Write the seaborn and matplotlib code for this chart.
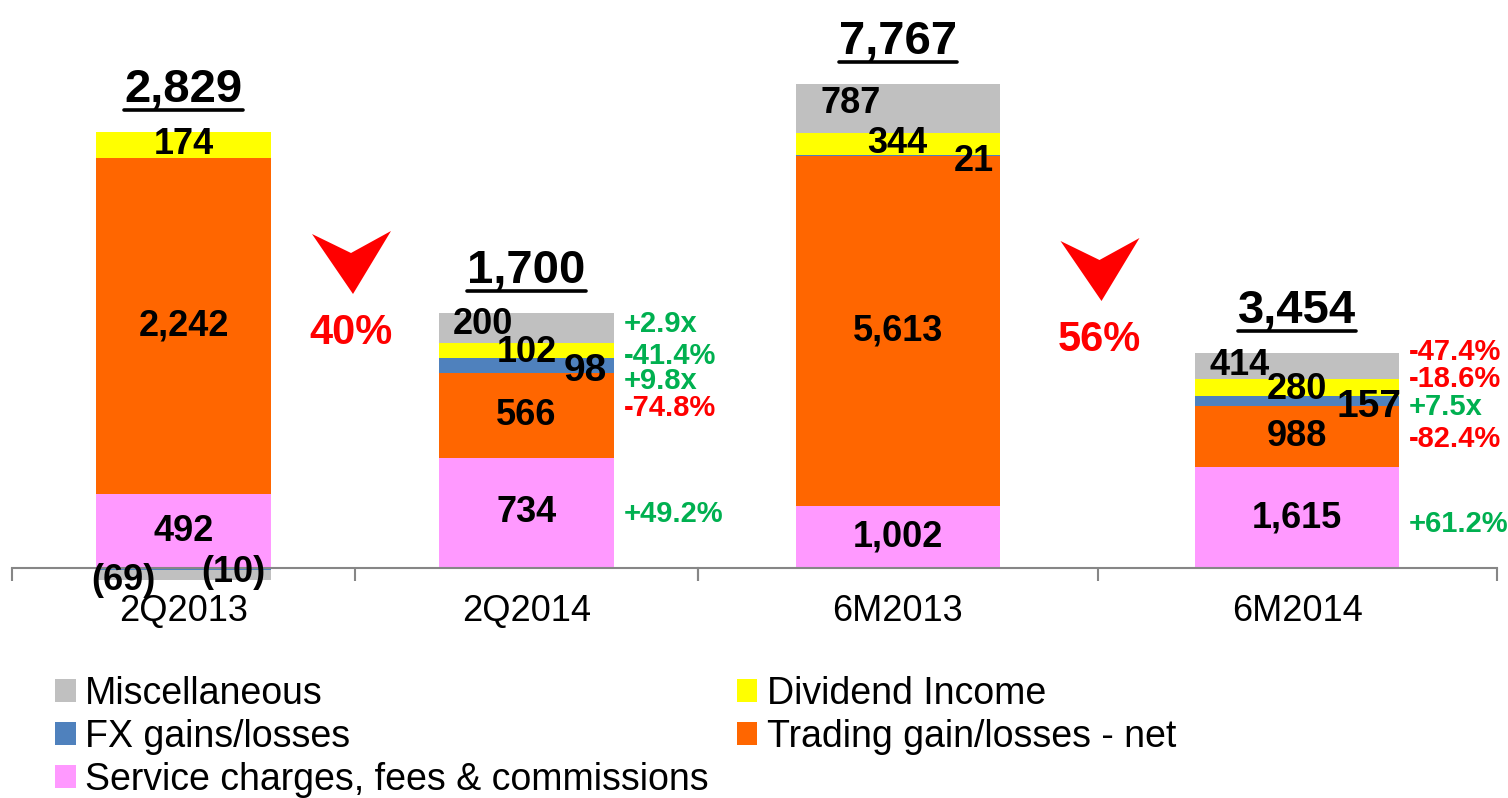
import numpy as np
import pandas as pd
import matplotlib
matplotlib.use("Agg")
import matplotlib.pyplot as plt
import seaborn as sns
from matplotlib.patches import Polygon, Patch
from matplotlib.lines import Line2D

# ---------------- data ----------------
categories_q = ["2Q2013", "2Q2014"]
categories_h = ["6M2013", "6M2014"]
series_names = ["Service charges, fees & commissions", "Trading gain/losses - net",
                "FX gains/losses", "Dividend Income", "Miscellaneous"]
service = [492, 734, 1002, 1615]
trading = [2242, 566, 5613, 988]
fx = [-10, 98, 21, 157]
dividend = [174, 102, 344, 280]
misc = [-69, 200, 787, 414]
totals = [2829, 1700, 7767, 3454]
change_2q2014 = ["+49.2%", "-74.8%", "+9.8x", "-41.4%", "+2.9x"]
change_6m2014 = ["+61.2%", "-82.4%", "+7.5x", "-18.6%", "-47.4%"]
change_good_2q2014 = [True, False, True, True, True]
change_good_6m2014 = [True, False, True, False, False]
decline_q = "40%"
decline_h = "56%"

colors = ["#FF99FF", "#FF6600", "#4F81BD", "#FFFF00", "#C0C0C0"]
GREEN, RED = "#00B050", "#FF0000"

sns.set_theme(style="white")
plt.rcParams["font.family"] = ["Liberation Sans", "DejaVu Sans"]
plt.rcParams["text.color"] = "black"
plt.rcParams["xtick.color"] = "black"

W, H = 1508, 798
fig = plt.figure(figsize=(W / 100, H / 100), dpi=100)
TOP_PX, BOT_PX, ZERO_PX = 10, 598, 568
ax1 = fig.add_axes([12 / W, (H - BOT_PX) / H, (698 - 12) / W, (BOT_PX - TOP_PX) / H])
ax2 = fig.add_axes([698 / W, (H - BOT_PX) / H, (1497 - 698) / W, (BOT_PX - TOP_PX) / H])
for a in (ax1, ax2):
    a.patch.set_visible(False)
PT = 0.72  # points per pixel
all_series = [service, trading, fx, dividend, misc]


def fmt(v):
    return f"({abs(v):,})" if v < 0 else f"{v:,}"


def draw_group(ax, cats, idx, scale, label_tweaks, changes, goods, change_dy, decline, decl_off):
    vals = [[s[i] for i in idx] for s in all_series]
    n = len(cats)
    pos = np.zeros(n); neg = np.zeros(n)
    bounds = []
    for k, v in enumerate(vals):
        v = np.array(v, float)
        b = np.where(v >= 0, pos, neg)
        df = pd.DataFrame({"cat": cats, "value": v})
        sns.barplot(data=df, x="cat", y="value", order=cats, color=colors[k],
                    saturation=1, width=0.51, errorbar=None, bottom=b,
                    linewidth=0, ax=ax)
        bounds.append((b.copy(), v))
        pos = pos + np.where(v >= 0, v, 0)
        neg = neg + np.where(v < 0, v, 0)
    ax.set_xlim(-0.5, n - 0.5)
    ax.set_ylim(-(BOT_PX - ZERO_PX) / scale, (ZERO_PX - TOP_PX) / scale)
    ax.set_xlabel(""); ax.set_ylabel("")
    for sp in ["top", "right", "left"]:
        ax.spines[sp].set_visible(False)
    ax.spines["bottom"].set_position(("data", 0))
    ax.spines["bottom"].set_color("#868686")
    ax.spines["bottom"].set_linewidth(1.5)
    ax.set_xticks(range(n))
    ax.set_xticklabels(cats)
    ax.set_xticks([-0.5, 0.5, 1.5], minor=True)
    ax.tick_params(axis="x", which="major", length=0, pad=19, labelsize=26, labelcolor="black")
    ax.tick_params(axis="x", which="minor", length=9, width=1.5, color="#868686", direction="out", bottom=True)
    ax.tick_params(axis="y", left=False, labelleft=False)
    ax.grid(False)

    # segment labels
    for k in range(5):
        b, v = bounds[k]
        for i in range(n):
            dx, dy, fs = label_tweaks.get((i, k), (0.0, 0, 26))
            y = 0 if v[i] < 0 else b[i] + v[i] / 2
            ax.annotate(fmt(int(v[i])), xy=(i + dx, y), xytext=(0, dy * PT),
                        textcoords="offset points", ha="center", va="center",
                        fontsize=fs, fontweight="bold", color="black",
                        annotation_clip=False, zorder=5)
    # change labels for the second bar
    for k in range(5):
        b, v = bounds[k]
        y = b[1] + v[1] / 2
        ax.annotate(changes[k], xy=(1 + 0.255, y), xytext=(10 * PT, change_dy[k] * PT),
                    textcoords="offset points", ha="left", va="center", fontsize=21,
                    fontweight="bold", color=GREEN if goods[k] else RED,
                    annotation_clip=False, zorder=6)
    # totals
    tot_texts = []
    for i in range(n):
        t = ax.annotate(f"{totals[idx[i]]:,}", xy=(i, pos[i]), xytext=(0, 30 * PT),
                        textcoords="offset points", ha="center", va="baseline",
                        fontsize=34, fontweight="bold", color="black",
                        annotation_clip=False)
        tot_texts.append((t, i, pos[i]))
    # decline label
    dx, dy = decl_off
    ax.annotate(decline, xy=(0.5, 0), xytext=(dx * PT, dy * PT), textcoords="offset points",
                ha="center", va="center", fontsize=30, fontweight="bold", color=RED,
                annotation_clip=False)
    return tot_texts


tweaks_q = {(0, 2): (0.144, -4, 26), (0, 4): (-0.176, -12, 26),
            (1, 2): (0.17, -5, 28), (1, 3): (0.0, -2, 26), (1, 4): (-0.128, 4, 26)}
tweaks_h = {(0, 2): (0.19, -6, 26), (0, 3): (0.0, 0, 26), (0, 4): (-0.118, 5, 26),
            (1, 2): (0.18, -6, 28), (1, 3): (0.0, -2, 26), (1, 4): (-0.145, 0, 26)}

S1, S2 = 0.15, 0.0623
tq = draw_group(ax1, categories_q, [0, 1], S1, tweaks_q, change_2q2014, change_good_2q2014,
                [-1, 7, -15, -5, 4], decline_q, (-4, 235))
th = draw_group(ax2, categories_h, [2, 3], S2, tweaks_h, change_6m2014, change_good_6m2014,
                [-6, -2, -6, 8, 14], decline_h, (2, 228))

# underline totals and draw decline chevrons
fig.canvas.draw()
renderer = fig.canvas.get_renderer()
for ax, lst in [(ax1, tq), (ax2, th)]:
    for t, i, top in lst:
        bb = t.get_window_extent(renderer)
        base = ax.transData.transform((i, top))[1] + 30
        yl = base - 8
        fig.add_artist(Line2D([bb.x0 / W, bb.x1 / W], [yl / H, yl / H],
                              transform=fig.transFigure, color="black", lw=2.6))

chev = [(-39, 99), (0, 80), (40, 102), (2, 39)]
for ax, (dx, dy) in [(ax1, (-4, 235)), (ax2, (2, 228))]:
    cx, cy = ax.transData.transform((0.5, 0))
    cx += dx; cy += dy
    pts = [((cx + px) / W, (cy + py) / H) for px, py in chev]
    fig.add_artist(Polygon(pts, closed=True, transform=fig.transFigure,
                           facecolor=RED, edgecolor="none"))

# legend
order = [4, 2, 0, 3, 1]
handles = [Patch(facecolor=colors[k], edgecolor="none") for k in order]
labels = [series_names[k] for k in order]
leg = fig.legend(handles, labels, loc="upper left", bbox_to_anchor=(55 / W, 1 - 676 / H),
                 ncol=2, frameon=False, fontsize=27, handlelength=0.55, handleheight=0.55,
                 handletextpad=0.25, labelspacing=0.18, columnspacing=0.75,
                 borderaxespad=0, borderpad=0)
for txt in leg.get_texts():
    txt.set_color("black")

fig.savefig("out.png", dpi=100)
